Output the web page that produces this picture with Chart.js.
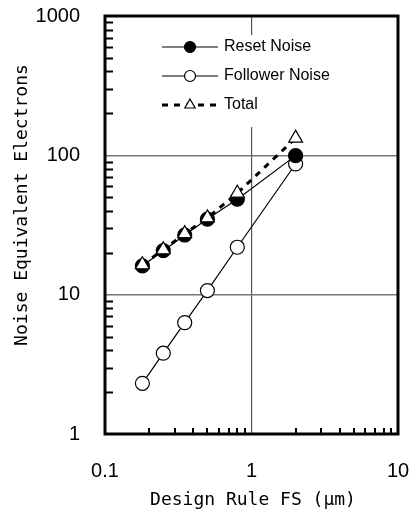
<!DOCTYPE html>
<html>
<head>
<meta charset="utf-8">
<script src="https://cdn.jsdelivr.net/npm/chart.js@4.4.1/dist/chart.umd.min.js"></script>
<style>
html, body { margin: 0; padding: 0; background: #fff; }
#wrap { width: 416px; height: 514px; }
</style>
</head>
<body>
<div id="wrap"><canvas id="mychart"></canvas></div>
<script>
// values
let designRule = [0.18, 0.25, 0.35, 0.5, 0.8, 2.0];
let resetNoise = [16.1, 20.7, 26.8, 34.9, 48.4, 99.5];
let followerNoise = [2.31, 3.8, 6.3, 10.7, 21.9, 86.7];
let totalNoise = [16.4, 21.0, 27.4, 35.6, 53.5, 133];
let seriesNames = ['Reset Noise', 'Follower Noise', 'Total'];
let xTicks = [0.1, 1, 10];
let yTicks = [1, 10, 100, 1000];
let xTitle = 'Design Rule FS (\u03bcm)';
let yTitle = 'Noise Equivalent Electrons';

let mychart = document.getElementById('mychart').getContext('2d');

function pts(ys) {
    return designRule.map((x, i) => ({ x: x, y: ys[i] }));
}
function isMajor(v, list) {
    return list.some(t => Math.abs(v - t) / t < 1e-6);
}

let framePlugin = {
    id: 'frame',
    afterDatasetsDraw(chart) {
        let c = chart.ctx;
        let a = chart.chartArea;
        let xs = chart.scales.x, ys = chart.scales.y;
        c.save();
        c.strokeStyle = '#000';
        // minor ticks, left and bottom, pointing in
        c.lineWidth = 2;
        c.beginPath();
        for (let d = 1; d < 1000; d *= 10) {
            for (let k = 2; k <= 9; k++) {
                let y = Math.round(ys.getPixelForValue(k * d)) + 0.5;
                c.moveTo(a.left, y);
                c.lineTo(a.left + 8, y);
            }
        }
        for (let d = 0.1; d < 5; d *= 10) {
            for (let k = 2; k <= 9; k++) {
                let x = Math.round(xs.getPixelForValue(k * d));
                c.moveTo(x, a.bottom);
                c.lineTo(x, a.bottom - 6);
            }
        }
        c.stroke();
        // thick frame
        c.lineWidth = 3;
        c.strokeRect(a.left, a.top, a.right - a.left, a.bottom - a.top);

        // legend
        c.fillStyle = '#fff';
        c.fillRect(156, 35, 175, 92);
        let rows = [47, 76, 105];
        let ds = chart.data.datasets;
        c.font = '16px "Liberation Sans", Arial, sans-serif';
        c.textBaseline = 'middle';
        c.textAlign = 'left';
        for (let i = 0; i < 3; i++) {
            let d = ds[i];
            let y = rows[i];
            c.beginPath();
            c.lineWidth = d.borderWidth;
            c.setLineDash(d.borderDash || []);
            c.strokeStyle = '#000';
            c.moveTo(162, y);
            c.lineTo(218, y);
            c.stroke();
            c.setLineDash([]);
            c.lineWidth = 1.2;
            c.fillStyle = d.pointBackgroundColor;
            c.beginPath();
            if (d.pointStyle === 'triangle') {
                let r = 6;
                c.moveTo(190, y - r);
                c.lineTo(190 + r * 0.866, y + r * 0.5);
                c.lineTo(190 - r * 0.866, y + r * 0.5);
                c.closePath();
            } else {
                c.arc(190, y, 5.5, 0, Math.PI * 2);
            }
            c.fill();
            c.stroke();
            c.fillStyle = '#000';
            c.fillText(d.label, 224, y);
        }

        // axis titles
        c.font = '18px "DejaVu Sans Mono", monospace';
        c.textAlign = 'center';
        c.fillText(xTitle, 253, 500);
        c.translate(22, 205);
        c.rotate(-Math.PI / 2);
        c.fillText(yTitle, 0, 0);
        c.restore();
    }
};

let obj = new Chart(mychart, {
    type: 'scatter',
    data: {
        datasets: [{
            label: seriesNames[0],
            data: pts(resetNoise),
            showLine: true,
            borderColor: '#000',
            borderWidth: 1.2,
            pointStyle: 'circle',
            pointRadius: 7,
            pointBackgroundColor: '#000',
            pointBorderColor: '#000',
            pointBorderWidth: 1.2,
            order: 1
        }, {
            label: seriesNames[1],
            data: pts(followerNoise),
            showLine: true,
            borderColor: '#000',
            borderWidth: 1.2,
            pointStyle: 'circle',
            pointRadius: 7,
            pointBackgroundColor: '#fff',
            pointBorderColor: '#000',
            pointBorderWidth: 1.2,
            order: 2
        }, {
            label: seriesNames[2],
            data: pts(totalNoise),
            showLine: true,
            borderColor: '#000',
            borderWidth: 3,
            borderDash: [6, 6],
            pointStyle: 'triangle',
            pointRadius: 8,
            pointBackgroundColor: '#fff',
            pointBorderColor: '#000',
            pointBorderWidth: 1.2,
            order: 0
        }]
    },
    options: {
        responsive: true,
        maintainAspectRatio: false,
        animation: false,
        layout: { padding: { top: 16, right: 18, left: 0, bottom: 0 } },
        plugins: { legend: { display: false }, tooltip: { enabled: false } },
        scales: {
            x: {
                type: 'logarithmic',
                position: 'bottom',
                min: 0.1,
                max: 10,
                afterFit: s => { s.height = 80; },
                border: { display: false },
                grid: {
                    drawTicks: true,
                    tickLength: 25,
                    tickColor: 'rgba(0,0,0,0)',
                    lineWidth: 1.2,
                    color: ctx => (ctx.tick && isMajor(ctx.tick.value, xTicks)) ? '#555' : 'rgba(0,0,0,0)'
                },
                ticks: {
                    autoSkip: false,
                    maxRotation: 0,
                    padding: 0,
                    color: '#000',
                    font: { family: '"Liberation Sans", Arial, sans-serif', size: 20 },
                    callback: v => isMajor(v, xTicks) ? String(v) : ''
                }
            },
            y: {
                type: 'logarithmic',
                min: 1,
                max: 1000,
                afterFit: s => { s.width = 105; },
                border: { display: false },
                grid: {
                    drawTicks: true,
                    tickLength: 25,
                    tickColor: 'rgba(0,0,0,0)',
                    lineWidth: 1.6,
                    color: ctx => (ctx.tick && isMajor(ctx.tick.value, yTicks)) ? '#777' : 'rgba(0,0,0,0)'
                },
                ticks: {
                    autoSkip: false,
                    padding: 0,
                    color: '#000',
                    font: { family: '"Liberation Sans", Arial, sans-serif', size: 20 },
                    callback: v => isMajor(v, yTicks) ? String(v) : ''
                }
            }
        }
    },
    plugins: [framePlugin]
});
</script>
</body>
</html>
